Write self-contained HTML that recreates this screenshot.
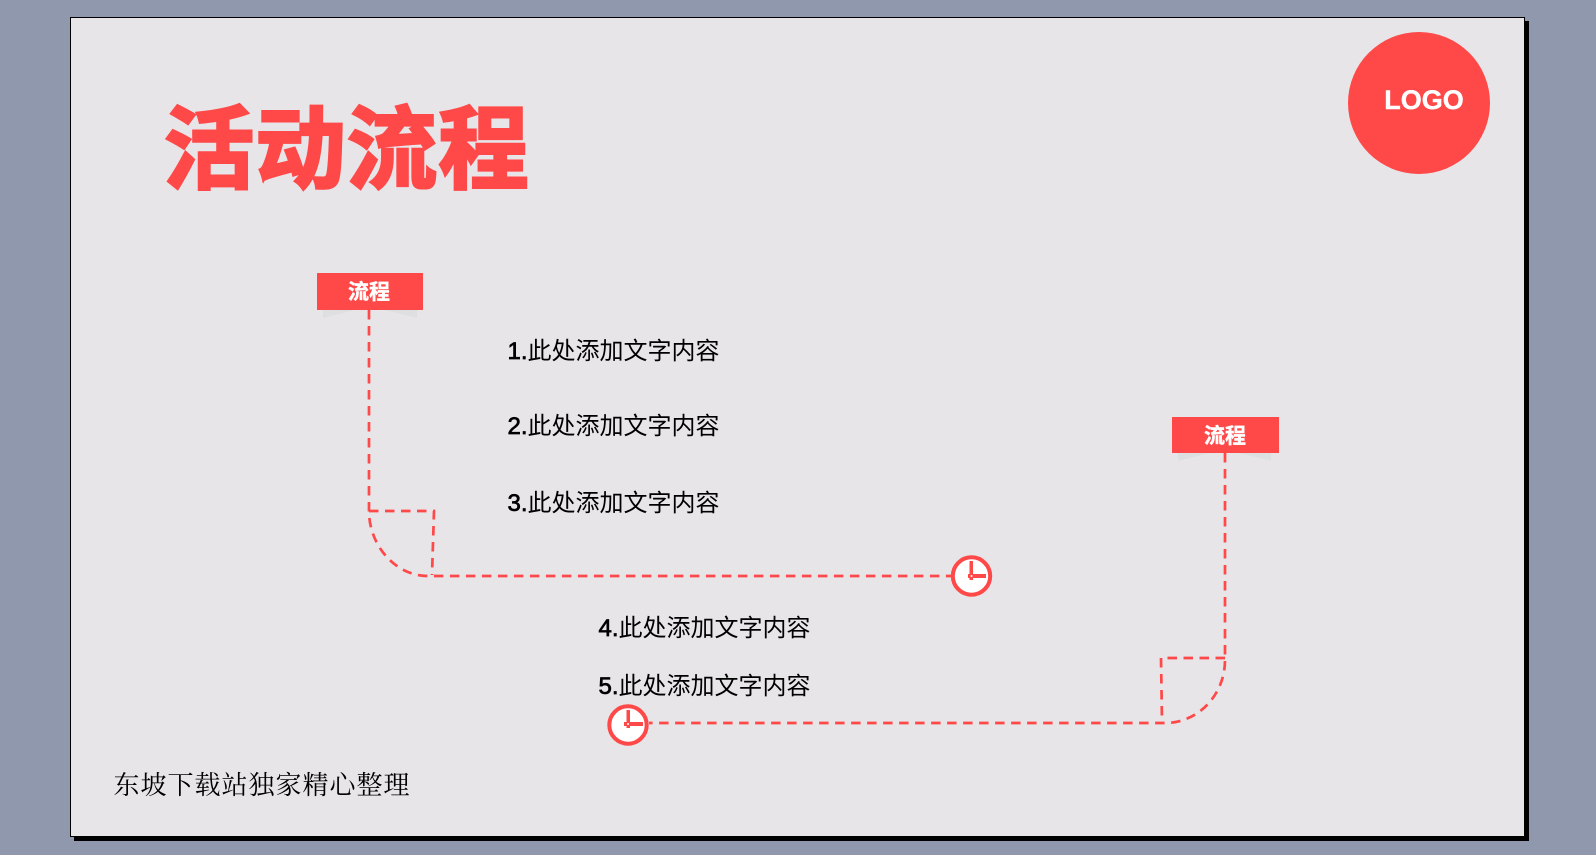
<!DOCTYPE html>
<html lang="zh">
<head>
<meta charset="utf-8">
<title>活动流程</title>
<style>
html,body{margin:0;padding:0;width:1596px;height:855px;overflow:hidden;background:#8f98ad;}
svg{position:absolute;left:0;top:0;display:block;}
.t{font-family:"Liberation Sans","WenQuanYi Zen Hei","Noto Sans CJK SC",sans-serif;font-size:24px;fill:#000;}
.n{stroke:#000;stroke-width:.7;}
.d{fill:none;stroke:#ff4848;stroke-width:2.7;stroke-dasharray:9.5 6.5;}
</style>
</head>
<body>
<svg width="1596" height="855" viewBox="0 0 1596 855" xmlns="http://www.w3.org/2000/svg">
  <rect x="74" y="21" width="1455" height="820" fill="#000"/>
  <rect x="70.5" y="17.5" width="1454" height="819" fill="#e7e5e8" stroke="#000" stroke-width="1"/>

  <circle cx="1419" cy="103" r="71" fill="#ff4848"/>
  <text x="1424" y="109" text-anchor="middle" font-family="Liberation Sans,sans-serif" font-weight="700" font-size="27" fill="#fff" stroke="#fff" stroke-width=".4">LOGO</text>

  <text x="164" y="181" font-family="'Liberation Sans','WenQuanYi Zen Hei','Noto Sans CJK SC',sans-serif" font-weight="700" font-size="90" letter-spacing="1.5" fill="#ff4848" stroke="#ff4848" stroke-width="3" stroke-linejoin="miter">活动流程</text>

  <polygon points="323,310 417,310 417,318 385,310 355,310 323,318" fill="#dedfe0"/>
  <polygon points="1178,453 1271,453 1271,461 1239,453 1210,453 1178,461" fill="#dedfe0"/>

  <path class="d" d="M369,310 V511 C369,545 395,576 428,576 H951"/>
  <path class="d" d="M369,511 H434 L432,575"/>
  <path class="d" d="M1225,453 V660 C1225,695 1198,723 1165,723 H649"/>
  <path class="d" d="M1225,658 H1161 L1162,722"/>

  <rect x="317" y="273" width="106" height="37" fill="#ff4848"/>
  <text x="348" y="299" font-family="'Liberation Sans','WenQuanYi Zen Hei','Noto Sans CJK SC',sans-serif" font-weight="700" font-size="21" fill="#fff" stroke="#fff" stroke-width=".4">流程</text>
  <rect x="1172" y="417" width="107" height="36" fill="#ff4848"/>
  <text x="1204" y="443" font-family="'Liberation Sans','WenQuanYi Zen Hei','Noto Sans CJK SC',sans-serif" font-weight="700" font-size="21" fill="#fff" stroke="#fff" stroke-width=".4">流程</text>

  <circle cx="971.5" cy="576" r="18.7" fill="#fff" stroke="#ff4848" stroke-width="4"/>
  <rect x="969.5" y="561" width="3.5" height="19" fill="#ff4848"/>
  <rect x="968" y="574" width="18" height="4" fill="#ff4848"/>
  <circle cx="971.5" cy="576" r="1" fill="#fff"/>

  <circle cx="628" cy="725" r="18.7" fill="#fff" stroke="#ff4848" stroke-width="4"/>
  <rect x="626.5" y="710" width="3.5" height="18" fill="#ff4848"/>
  <rect x="624" y="722" width="19" height="4" fill="#ff4848"/>
  <circle cx="628" cy="724" r="1" fill="#fff"/>

  <text class="t" x="507.5" y="359"><tspan class="n">1.</tspan>此处添加文字内容</text>
  <text class="t" x="507.5" y="434"><tspan class="n">2.</tspan>此处添加文字内容</text>
  <text class="t" x="507.5" y="511"><tspan class="n">3.</tspan>此处添加文字内容</text>
  <text class="t" x="598.5" y="636"><tspan class="n">4.</tspan>此处添加文字内容</text>
  <text class="t" x="598.5" y="694"><tspan class="n">5.</tspan>此处添加文字内容</text>

  <text x="113.5" y="794" font-family="'Liberation Serif','Noto Serif CJK SC',serif" font-size="26" letter-spacing="1" fill="#000">东坡下载站独家精心整理</text>
</svg>
</body>
</html>
